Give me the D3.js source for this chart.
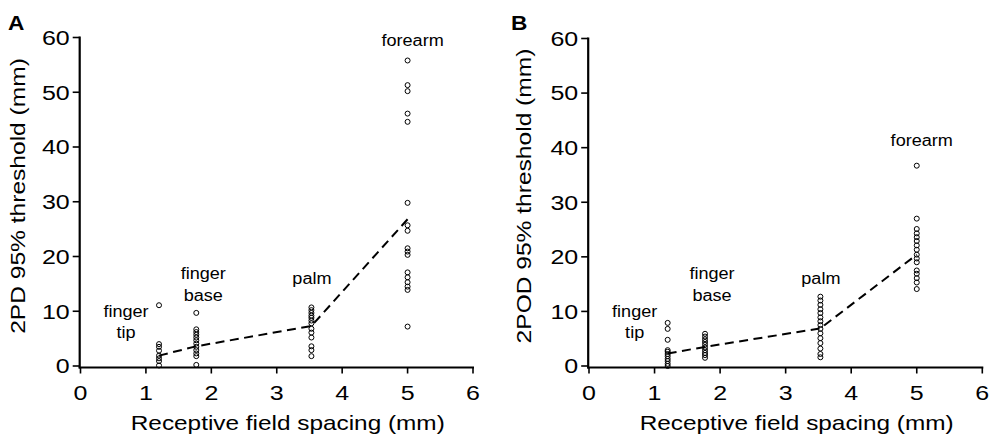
<!DOCTYPE html>
<html><head><meta charset="utf-8">
<script src="https://cdn.jsdelivr.net/npm/d3@7"></script>
<style>html,body{margin:0;padding:0;background:#fff;}svg{display:block;}</style>
</head><body>
<svg id="chart" width="992" height="442"></svg>
<script>
// ---- data ----
const sites = ["finger tip", "finger base", "palm", "forearm"];
const spacing = [1.2, 1.77, 3.53, 5.0];
const xTickValues = [0, 1, 2, 3, 4, 5, 6];
const yTickValues = [0, 10, 20, 30, 40, 50, 60];

const tipA  = [11.1, 4.0, 3.5, 2.8, 1.9, 1.4, 0.9, 0.1];
const baseA = [9.7, 6.7, 6.2, 5.7, 5.2, 4.7, 4.1, 3.5, 2.9, 2.3, 1.8, 0.2];
const palmA = [10.7, 10.2, 9.7, 9.2, 8.8, 8.3, 7.8, 6.8, 6.1, 5.2, 3.6, 2.9, 1.8];
const foreA = [55.8, 51.3, 50.2, 46.1, 44.6, 29.8, 25.7, 24.7, 21.5, 20.9, 20.3, 17.1, 16.2, 15.3, 14.5, 13.9, 7.2];
const meanA = [1.9, 3.6, 7.3, 26.8];

const tipB  = [7.9, 6.8, 4.8, 2.9, 2.6, 2.2, 1.8, 1.3, 0.9, 0.4, 0.0];
const baseB = [5.9, 5.4, 4.9, 4.4, 3.9, 3.4, 2.9, 2.4, 2.0, 1.5];
const palmB = [12.7, 12.0, 11.2, 10.4, 9.7, 8.9, 8.2, 7.5, 6.8, 6.0, 5.1, 4.2, 3.2, 2.2, 1.6];
const foreB = [36.7, 27.0, 25.1, 24.3, 23.6, 22.9, 22.1, 21.3, 20.4, 19.7, 19.0, 17.5, 16.9, 16.1, 15.3, 14.1];
const meanB = [2.3, 3.5, 6.9, 20.4];

// ---- drawing ----
const svg = d3.select("#chart");
const FONT = "'Liberation Sans', Arial, Helvetica, sans-serif";

function label(parent, x, y, str, size, anchor, opt) {
  opt = opt || {};
  const sx = opt.sx || 1.2;
  const rot = opt.rotate ? " rotate(-90)" : "";
  const g = parent.append("g").attr("transform", `translate(${x},${y})${rot} scale(${sx},1)`);
  g.append("text")
    .attr("text-anchor", anchor)
    .attr("font-family", FONT)
    .attr("font-size", size)
    .attr("font-weight", opt.bold ? "bold" : "normal")
    .attr("fill", "#000")
    .text(str);
  return g;
}

function panel(cfg) {
  const g = svg.append("g");
  const x = d3.scaleLinear().domain([0, 6]).range(cfg.xr);
  const y = d3.scaleLinear().domain([0, 60]).range(cfg.yr);
  const x0 = cfg.xr[0] - 0.8;     // y-axis line position
  const yb = cfg.yr[0] + 1.5;     // x-axis line position

  // y axis
  g.append("line").attr("x1", x0).attr("x2", x0).attr("y1", y(60) - 1).attr("y2", yb + 1)
    .attr("stroke", "#000").attr("stroke-width", 2.2);
  yTickValues.forEach(v => {
    g.append("line").attr("x1", x0 - 7).attr("x2", x0).attr("y1", y(v)).attr("y2", y(v))
      .attr("stroke", "#000").attr("stroke-width", 1.6);
    label(g, x0 - 10, y(v) + 7.3, String(v), 20.5, "end", {sx: 1.22});
  });
  // x axis
  g.append("line").attr("x1", x0 - 1).attr("x2", x(6) + 1).attr("y1", yb).attr("y2", yb)
    .attr("stroke", "#000").attr("stroke-width", 2.2);
  xTickValues.forEach(v => {
    g.append("line").attr("x1", x(v)).attr("x2", x(v)).attr("y1", yb).attr("y2", yb + 6)
      .attr("stroke", "#000").attr("stroke-width", 1.6);
    label(g, x(v), 400, String(v), 20.5, "middle", {sx: 1.22});
  });

  // titles
  label(g, (cfg.xr[0] + cfg.xr[1]) / 2 + 11, 430, "Receptive field spacing (mm)", 21, "middle", {sx: 1.16});
  label(g, cfg.ytx, 196, cfg.ytitle, 21, "middle", {sx: 1.17, rotate: true});
  label(g, cfg.px, 30, cfg.letter, 21, "start", {sx: 1.08, bold: true});

  // mean dashed line
  const line = d3.line().x((d, i) => x(spacing[i])).y(d => y(d));
  g.append("path").datum(cfg.mean).attr("d", line)
    .attr("fill", "none").attr("stroke", "#000").attr("stroke-width", 2)
    .attr("stroke-dasharray", "9,5.5");

  // points
  cfg.groups.forEach((vals, i) => {
    g.selectAll(null).data(vals).enter().append("circle")
      .attr("cx", x(spacing[i])).attr("cy", d => y(d)).attr("r", 2.5)
      .attr("fill", "none").attr("stroke", "#000").attr("stroke-width", 1);
  });

  // site annotations
  const dx = [-33, 7, 0.5, 5];
  label(g, x(spacing[0]) + dx[0], 317, "finger", 16, "middle", {sx: 1.13});
  label(g, x(spacing[0]) + dx[0], 338, "tip", 16, "middle", {sx: 1.13});
  label(g, x(spacing[1]) + dx[1], 279, "finger", 16, "middle", {sx: 1.13});
  label(g, x(spacing[1]) + dx[1], 301, "base", 16, "middle", {sx: 1.13});
  label(g, x(spacing[2]) + dx[2], 284, sites[2], 16, "middle", {sx: 1.13});
  label(g, x(spacing[3]) + dx[3], cfg.foreY, sites[3], 16, "middle", {sx: 1.13});
}

panel({
  xr: [80.5, 473], yr: [366, 37.5], letter: "A", px: 8,
  ytitle: "2PD 95% threshold (mm)", ytx: 25,
  groups: [tipA, baseA, palmA, foreA], mean: meanA, foreY: 46
});
panel({
  xr: [589, 982.3], yr: [366, 38.5], letter: "B", px: 511,
  ytitle: "2POD 95% threshold (mm)", ytx: 531,
  groups: [tipB, baseB, palmB, foreB], mean: meanB, foreY: 146
});
</script>
</body></html>
